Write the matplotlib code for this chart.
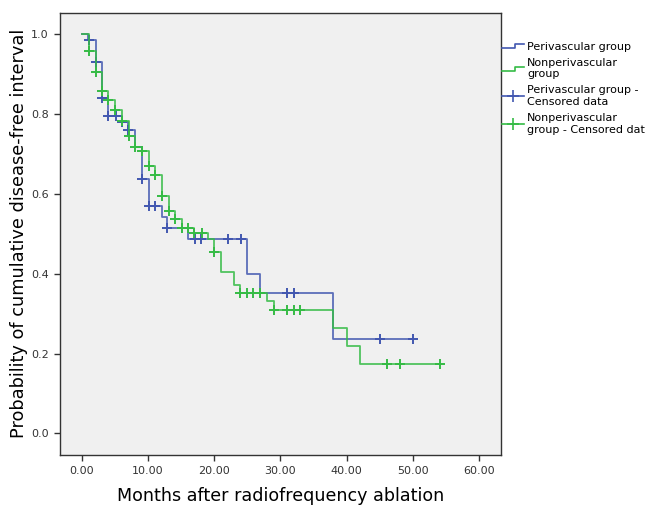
import numpy as np
import matplotlib
matplotlib.use("Agg")
from matplotlib import pyplot as plt
from matplotlib.lines import Line2D
from matplotlib.legend_handler import HandlerLine2D

# Kaplan-Meier steps (months, survival after the step)
peri_t = [0, 0.9, 2.1, 3.0, 4.0, 6.0, 7.0, 8.1, 9.1, 10.1, 12.1, 12.9, 16.0, 25.0, 26.9, 38.0]
peri_s = [1.0, 0.986, 0.930, 0.840, 0.795, 0.779, 0.760, 0.718, 0.637, 0.570, 0.543, 0.515,
          0.486, 0.400, 0.353, 0.237]
peri_end = 50.1
peri_cens = [1.1, 2.1, 3.0, 4.0, 5.1, 6.0, 7.0, 9.1, 10.1, 11.1, 12.9, 17.1, 18.0, 22.1, 24.0,
             31.0, 32.0, 45.1, 50.1]

non_t = [0, 1.1, 2.1, 3.0, 4.0, 5.0, 6.0, 7.1, 8.1, 9.1, 10.1, 11.1, 12.1, 13.1, 14.1, 15.1,
         16.9, 19.1, 20.0, 21.0, 23.0, 23.9, 28.0, 29.0, 38.0, 40.0, 42.0]
non_s = [1.0, 0.957, 0.906, 0.858, 0.835, 0.809, 0.783, 0.746, 0.718, 0.707, 0.671, 0.647,
         0.595, 0.558, 0.537, 0.515, 0.501, 0.487, 0.455, 0.405, 0.371, 0.351, 0.332, 0.308,
         0.263, 0.220, 0.175]
non_end = 54.1
non_cens = [1.1, 2.1, 3.0, 4.0, 5.0, 6.0, 7.1, 8.1, 9.1, 10.1, 11.1, 12.1, 13.1, 14.1, 15.1,
            16.1, 16.9, 18.1, 20.0, 23.9, 24.9, 25.9, 26.9, 29.0, 31.0, 32.0, 33.0, 46.1, 48.1,
            54.1]

x_ticks = [0, 10, 20, 30, 40, 50, 60]
y_ticks = [0.0, 0.2, 0.4, 0.6, 0.8, 1.0]

BLUE = "#4257b0"
GREEN = "#35bb45"


def curve_at(t, s, pts):
    t = np.asarray(t)
    s = np.asarray(s)
    idx = np.searchsorted(t, pts, side="right") - 1
    return s[idx]


class StepHandler(HandlerLine2D):
    def create_artists(self, legend, orig, xd, yd, width, height, fontsize, trans):
        y0 = height * 0.2
        y1 = height * 0.75
        xs = [-xd, -xd + width * 0.6, -xd + width * 0.6, -xd + width]
        ys = [y0, y0, y1, y1]
        ln = Line2D(xs, ys, color=orig.get_color(), lw=orig.get_linewidth())
        ln.set_transform(trans)
        return [ln]


fig = plt.figure(figsize=(6.55, 5.05), dpi=100)
ax = fig.add_axes([0.0916, 0.099, 0.6728, 0.876])
ax.set_facecolor("#f0f0f0")

for t, s, end, cens, col in [(peri_t, peri_s, peri_end, peri_cens, BLUE),
                             (non_t, non_s, non_end, non_cens, GREEN)]:
    ax.step(np.append(t, end), np.append(s, s[-1]), where="post", color=col, lw=1.3, alpha=0.85)
    ax.plot(cens, curve_at(t, s, cens), ls="none", marker="+", ms=7, mew=1.4, color=col)

ax.set_xlim(-3.3, 63.3)
ax.set_ylim(-0.054, 1.054)
ax.set_xticks(x_ticks)
ax.set_xticklabels([f"{v:.2f}" for v in x_ticks])
ax.set_yticks(y_ticks)
ax.set_yticklabels([f"{v:.1f}" for v in y_ticks])
ax.tick_params(direction="out", length=4.5, width=1, labelsize=8, colors="#333333")
for sp in ax.spines.values():
    sp.set_color("#333333")
    sp.set_linewidth(1)

ax.set_xlabel("Months after radiofrequency ablation", fontsize=12.6, labelpad=8)
ax.set_ylabel("Probability of cumulative disease-free interval", fontsize=12.8, labelpad=2)

h1 = Line2D([], [], color=BLUE, lw=1.2)
h2 = Line2D([], [], color=GREEN, lw=1.2)
h3 = Line2D([], [], color=BLUE, lw=1.2, marker="+", ms=8, mew=1.2)
h4 = Line2D([], [], color=GREEN, lw=1.2, marker="+", ms=8, mew=1.2)
leg = ax.legend([h1, h2, h3, h4],
                ["Perivascular group", "Nonperivascular\ngroup",
                 "Perivascular group -\nCensored data", "Nonperivascular\ngroup - Censored dat"],
                handler_map={h1: StepHandler(), h2: StepHandler()},
                loc="upper left", bbox_to_anchor=(1.0, 0.937), frameon=False, fontsize=8,
                handlelength=2.0, handletextpad=0.3, labelspacing=0.55, borderaxespad=0.0,
                borderpad=0.1)

fig.savefig("out.png", dpi=100)
